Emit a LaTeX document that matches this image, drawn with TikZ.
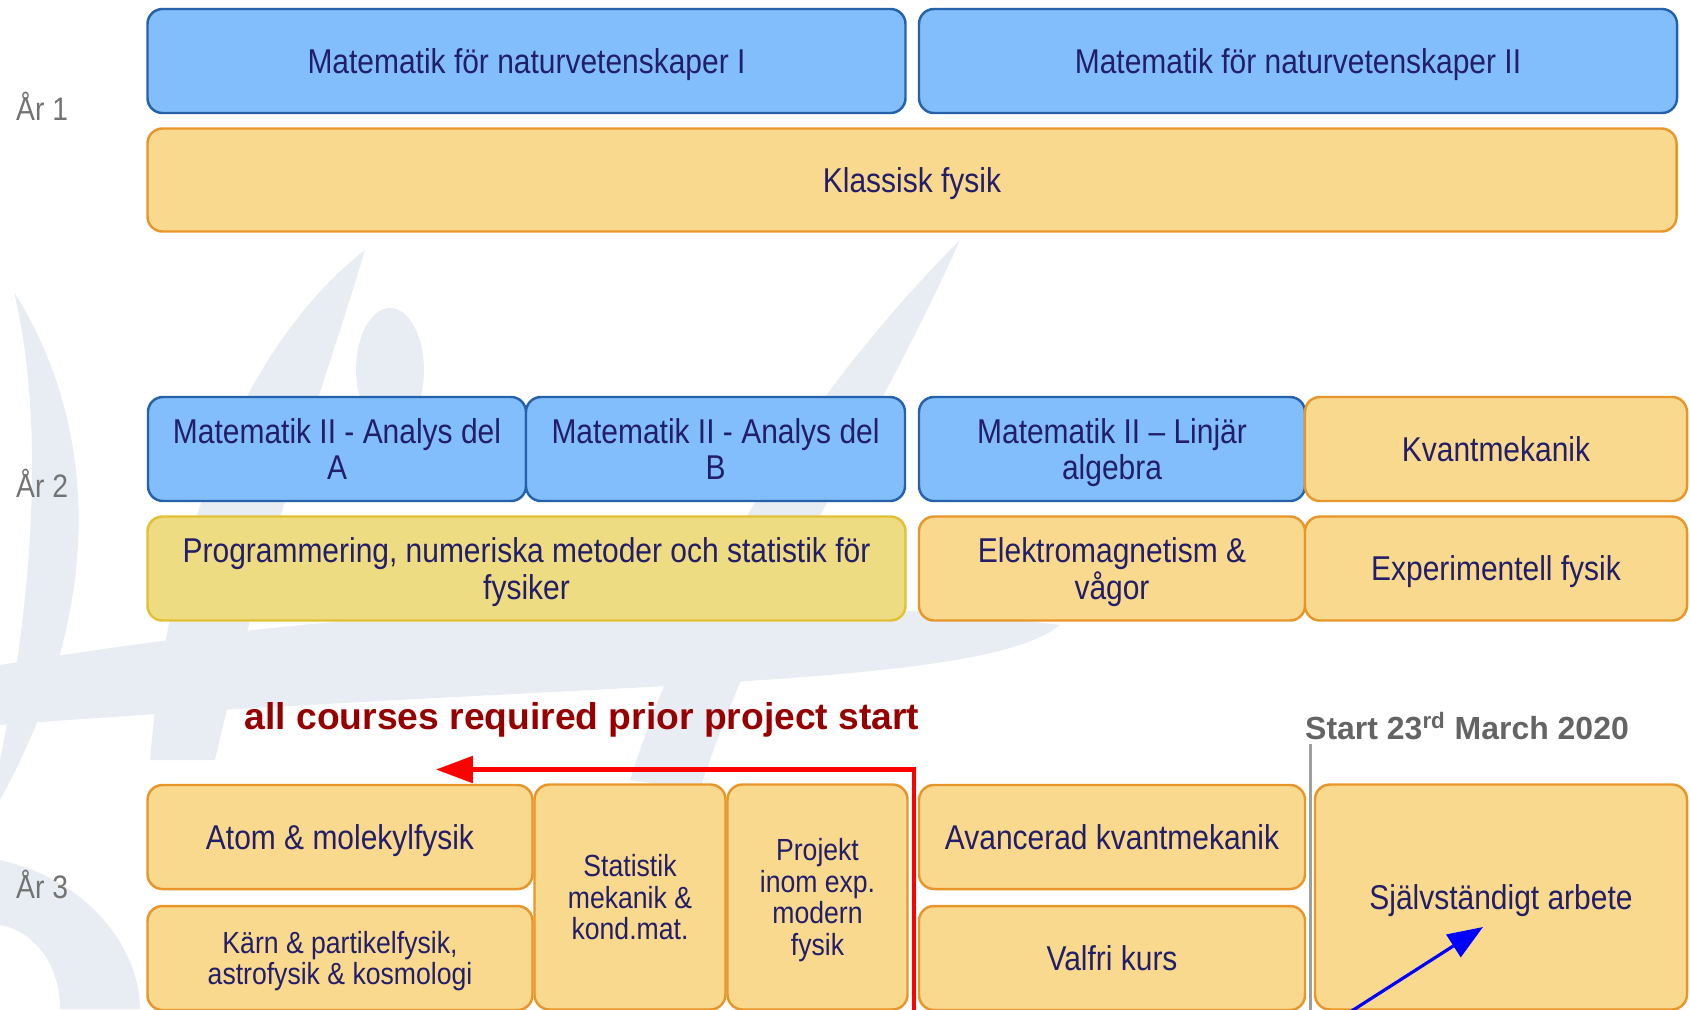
\documentclass[tikz,border=0pt]{standalone}
\usepackage{fontspec}
\setmainfont{Liberation Sans}[FakeStretch=0.87]
\newfontfamily\notefont{Liberation Sans}
\usetikzlibrary{arrows.meta}

\definecolor{mathfill}{RGB}{130,190,252}
\definecolor{mathedge}{RGB}{38,98,170}
\definecolor{physfill}{RGB}{249,217,142}
\definecolor{physedge}{RGB}{232,150,42}
\definecolor{progfill}{RGB}{238,220,130}
\definecolor{progedge}{RGB}{226,192,52}
\definecolor{coursetext}{RGB}{35,30,105}
\definecolor{notered}{RGB}{150,0,0}
\definecolor{startgray}{RGB}{100,100,100}
\definecolor{yeargray}{RGB}{115,115,115}
\definecolor{leafwash}{RGB}{232,237,244}

\begin{document}
\begin{tikzpicture}[x=0.02cm, y=-0.02cm,
  course/.style={draw, rounded corners=8.5pt, line width=1.4pt, inner sep=0pt,
    align=center, text=coursetext, text depth=0pt, font=\fontsize{19.6}{20.8}\selectfont},
  mathbox/.style={course, draw=mathedge, fill=mathfill},
  physbox/.style={course, draw=physedge, fill=physfill},
  progbox/.style={course, draw=progedge, fill=progfill},
  smalltext/.style={font=\fontsize{17.4}{17.9}\selectfont},
  sz/.style 2 args={minimum width=#1*0.02cm, minimum height=#2*0.02cm},
  yearlbl/.style={anchor=west, text=yeargray, font=\fontsize{18.5}{20}\selectfont},
  leaf/.style={fill=leafwash, draw=none}]
  \clip (0,0) rectangle (1690,1009);

  % faint watermark behind the plan
  \fill[leaf] (0,760) .. controls (40,560) and (40,400) .. (14,292) .. controls (95,420) and (110,600) .. (0,800) -- cycle;
  \fill[leaf] (150,760) .. controls (170,520) and (250,340) .. (365,250) .. controls (320,400) and (260,560) .. (215,760) -- cycle;
  \fill[leaf] (390,370) ellipse (34 and 62);
  \fill[leaf] (630,780) .. controls (700,560) and (820,380) .. (960,240) .. controls (880,420) and (760,600) .. (700,790) -- cycle;
  \fill[leaf] (0,665) .. controls (300,615) and (700,580) .. (1060,625) .. controls (980,690) and (600,680) .. (0,725) -- cycle;
  \fill[leaf] (0,860) .. controls (90,880) and (140,950) .. (140,1009) -- (60,1009) .. controls (60,960) and (30,930) .. (0,925) -- cycle;

  % Year 1
  \node[yearlbl] (yr1) at (10,106) {År 1};
  \node[mathbox, sz={758}{104}] (mfn1) at (526.5,61) {Matematik för naturvetenskaper I};
  \node[mathbox, sz={758}{104}] (mfn2) at (1298,61) {Matematik för naturvetenskaper II};
  \node[physbox, sz={1529}{103}] (klass) at (912,180) {Klassisk fysik};

  % Year 2
  \node[yearlbl] (yr2) at (10,483) {År 2};
  \node[mathbox, sz={378}{104}] (anaA) at (337,449) {Matematik II - Analys del\\A};
  \node[mathbox, sz={379}{104}] (anaB) at (715.5,449) {Matematik II - Analys del\\B};
  \node[mathbox, sz={386}{104}] (linalg) at (1112,449) {Matematik II -- Linjär\\algebra};
  \node[physbox, sz={382}{104}] (kvant) at (1496,449) {Kvantmekanik};
  \node[progbox, sz={758}{104}] (prog) at (526.5,568.5) {Programmering, numeriska metoder och statistik för\\fysiker};
  \node[physbox, sz={386}{104}] (elmag) at (1112,568.5) {Elektromagnetism \&\\vågor};
  \node[physbox, sz={382}{104}] (expfys) at (1496,568.5) {Experimentell fysik};

  % Year 3
  \node[yearlbl] (yr3) at (10,884) {År 3};
  \node[physbox, sz={385}{104}] (atom) at (340,837) {Atom \& molekylfysik};
  \node[physbox, smalltext, sz={385}{104}] (karn) at (340,958) {Kärn \& partikelfysik,\\astrofysik \& kosmologi};
  \node[physbox, smalltext, sz={191}{225}] (stat) at (630,897) {Statistik\\mekanik \&\\kond.mat.};
  \node[physbox, smalltext, sz={180}{225}] (proj) at (817.5,897) {Projekt\\inom exp.\\modern\\fysik};
  \node[physbox, sz={386}{104}] (avanc) at (1112,837) {Avancerad kvantmekanik};
  \node[physbox, sz={386}{104}] (valfri) at (1112,958) {Valfri kurs};
  \node[physbox, sz={372}{225}] (sjalv) at (1501,897) {Självständigt arbete};

  % notes and markers
  \node[text=notered, font=\notefont\bfseries\fontsize{21.2}{24}\selectfont] (req) at (582,720) {all courses required prior project start};
  \node[anchor=west, text=startgray, font=\notefont\bfseries\fontsize{18.2}{22}\selectfont] (start) at (1299,726) {Start 23\textsuperscript{rd} March 2020};

  \coordinate (lineTop) at (1310.5,744);
  \coordinate (lineBot) at (1310.5,1012);
  \draw[line width=2.2pt, gray!75] (lineTop) -- (lineBot);

  \coordinate (redFrom) at (914,1012);
  \coordinate (redTo) at (436,769.5);
  \draw[red, line width=2.4pt, -{Triangle[length=21pt, width=15pt]}] (redFrom) |- (redTo);

  \coordinate (blueFrom) at (1350,1012);
  \coordinate (blueTo) at (1483,927);
  \draw[blue, line width=1.8pt, -{Triangle[length=20pt, width=15pt]}] (blueFrom) -- (blueTo);
\end{tikzpicture}
\end{document}
